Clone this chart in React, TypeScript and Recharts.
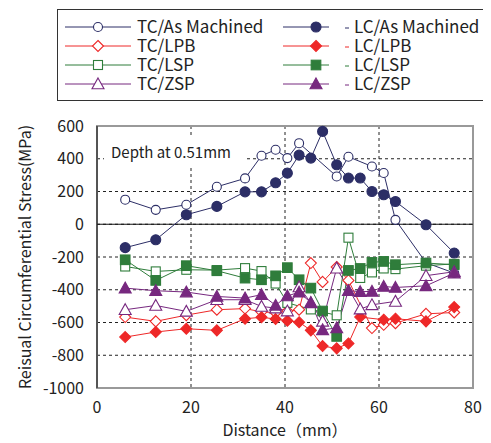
import React from "react";
import {
  LineChart,
  Line,
  XAxis,
  YAxis,
  CartesianGrid,
  ReferenceLine,
  ReferenceArea,
  Label,
} from "recharts";

const FONT = '"Noto Sans CJK JP", "Noto Sans", sans-serif';

// [distance mm, stress MPa]
const tcAsMachined = [
  [6, 150], [12.5, 88], [19, 119], [25.5, 229], [31.5, 280], [35, 418], [38, 455],
  [40.5, 404], [43, 495], [51, 292], [53.5, 412], [58.5, 353], [61, 313], [63.5, 27],
  [70, -235], [76, -298],
];
const lcAsMachined = [
  [6, -143], [12.5, -95], [19, 58], [25.5, 109], [31.5, 198], [35, 198], [38, 253],
  [40.5, 312], [43, 422], [45.5, 404], [48, 567], [51, 363], [53.5, 282], [56, 282],
  [58.5, 200], [61, 180], [63.5, 139], [70, -3], [76, -176],
];
const tcLPB = [
  [6, -567], [12.5, -593], [19, -555], [25.5, -522], [31.5, -515], [35, -535], [38, -540],
  [40.5, -530], [43, -522], [45.5, -237], [48, -352], [51, -261], [53.5, -343],
  [58.5, -634], [61, -614], [63.5, -604], [70, -547], [76, -539],
];
const lcLPB = [
  [6, -689], [12.5, -658], [19, -638], [25.5, -648], [31.5, -577], [35, -568], [38, -579],
  [40.5, -589], [43, -598], [45.5, -648], [48, -744], [51, -758], [53.5, -728], [56, -567],
  [61, -583], [63.5, -577], [70, -593], [76, -506],
];
const tcLSP = [
  [6, -258], [12.5, -288], [19, -278], [25.5, -280], [31.5, -268], [35, -286], [38, -362],
  [40.5, -480], [45.5, -520], [51, -556], [53.5, -82], [56, -328], [58.5, -294], [61, -270],
  [63.5, -274], [70, -253], [76, -242],
];
const lcLSP = [
  [6, -217], [12.5, -343], [19, -253], [25.5, -284], [31.5, -329], [35, -339], [38, -315],
  [40.5, -265], [43, -339], [45.5, -390], [48, -530], [51, -685], [53.5, -282], [56, -270],
  [58.5, -233], [61, -227], [63.5, -247], [70, -237], [76, -247],
];
const tcZSP = [
  [6, -522], [12.5, -496], [19, -532], [25.5, -461], [31.5, -461], [35, -502], [38, -512],
  [40.5, -530], [43, -383], [45.5, -480], [48, -593], [51, -268], [56, -518], [58.5, -492],
  [63.5, -471], [70, -314], [76, -290],
];
const lcZSP = [
  [6, -390], [12.5, -406], [19, -414], [25.5, -441], [31.5, -451], [35, -430], [38, -495],
  [40.5, -438], [43, -415], [45.5, -479], [48, -645], [51, -633], [53.5, -405], [56, -412],
  [58.5, -410], [61, -380], [63.5, -386], [70, -376], [76, -298],
];

const xTicks = [0, 20, 40, 60, 80];
const yTicks = [-1000, -800, -600, -400, -200, 0, 200, 400, 600];

const NAVY = "#2c2e66";
const RED = "#ee2828";
const GREEN = "#2f7d3b";
const PURPLE = "#77287f";

type Shape = "circle" | "diamond" | "square" | "triangle";

const series = [
  { name: "TC/As Machined", data: tcAsMachined, color: NAVY, shape: "circle", filled: false },
  { name: "LC/As Machined", data: lcAsMachined, color: NAVY, shape: "circle", filled: true },
  { name: "TC/LPB", data: tcLPB, color: RED, shape: "diamond", filled: false },
  { name: "LC/LPB", data: lcLPB, color: RED, shape: "diamond", filled: true },
  { name: "TC/LSP", data: tcLSP, color: GREEN, shape: "square", filled: false },
  { name: "LC/LSP", data: lcLSP, color: GREEN, shape: "square", filled: true },
  { name: "TC/ZSP", data: tcZSP, color: PURPLE, shape: "triangle", filled: false },
  { name: "LC/ZSP", data: lcZSP, color: PURPLE, shape: "triangle", filled: true },
] as { name: string; data: number[][]; color: string; shape: Shape; filled: boolean }[];

function marker(shape: Shape, color: string, filled: boolean, cx: number, cy: number, key?: string) {
  const fill = filled ? color : "#fff";
  const common = { key, fill, stroke: color, strokeWidth: 1.1 };
  if (shape === "circle") return <circle {...common} cx={cx} cy={cy} r={filled ? 5 : 4.5} />;
  if (shape === "diamond") {
    const s = 5.5;
    return <polygon {...common} points={`${cx},${cy - s} ${cx + s},${cy} ${cx},${cy + s} ${cx - s},${cy}`} />;
  }
  if (shape === "square") {
    const s = filled ? 4.8 : 4.5;
    return <rect {...common} x={cx - s} y={cy - s} width={2 * s} height={2 * s} />;
  }
  const s = 6;
  return (
    <polygon {...common} points={`${cx},${cy - s} ${cx + s},${cy + s * 0.8} ${cx - s},${cy + s * 0.8}`} />
  );
}

function Legend() {
  const rows = [0, 1, 2, 3];
  return (
    <div
      style={{
        position: "absolute",
        left: 49,
        top: 1,
        width: 440,
        height: 90,
        border: "1px solid #333",
        background: "#fff",
      }}
    >
      <svg width={440} height={90} style={{ display: "block" }}>
        {rows.map((r) => {
          const y = 17 + r * 19;
          const tc = series[r * 2];
          const lc = series[r * 2 + 1];
          return (
            <g key={r}>
              <line x1={7} x2={73} y1={y} y2={y} stroke={tc.color} strokeWidth={1} />
              {marker(tc.shape, tc.color, tc.filled, 40, y)}
              <text x={79} y={y + 6} fontSize={17} fontFamily={FONT} fill="#222">
                {tc.name}
              </text>
              <line x1={225} x2={271} y1={y} y2={y} stroke={lc.color} strokeWidth={1} />
              {marker(lc.shape, lc.color, lc.filled, 258, y)}
              <line x1={287} x2={291} y1={y + 1} y2={y + 1} stroke={lc.color} strokeWidth={1} />
              <text x={296} y={y + 6} fontSize={17} fontFamily={FONT} fill="#222">
                {lc.name}
              </text>
            </g>
          );
        })}
      </svg>
    </div>
  );
}

export default function App() {
  return (
    <div style={{ position: "relative", width: 483, height: 435, fontFamily: FONT }}>
      <LineChart
        width={483}
        height={435}
        margin={{ top: 118, right: 18, bottom: 5, left: 29 }}
      >
        <CartesianGrid stroke="#222" strokeDasharray="3 3" />
        <ReferenceArea
          x1={0}
          x2={80}
          y1={-1000}
          y2={600}
          fill="none"
          stroke="#999"
          strokeWidth={2}
          ifOverflow="visible"
        />
        <ReferenceLine y={0} stroke="#111" strokeWidth={1.2} />
        <XAxis
          type="number"
          dataKey="x"
          domain={[0, 80]}
          ticks={xTicks}
          height={50}
          tickSize={0}
          tickMargin={14}
          axisLine={false}
          tick={{ fontSize: 16, fill: "#222", fontFamily: FONT }}
        >
          <Label
            value="Distance（mm）"
            position="insideBottom"
            offset={2}
            style={{ fontSize: 16, fill: "#222", fontFamily: FONT }}
          />
        </XAxis>
        <YAxis
          type="number"
          domain={[-1000, 600]}
          ticks={yTicks}
          width={60}
          tickSize={0}
          tickMargin={13}
          axisLine={{ stroke: "#111" }}
          tick={{ fontSize: 16, fill: "#222", fontFamily: FONT }}
        >
          <Label
            value="Reisual Circumferential Stress(MPa)"
            angle={-90}
            position="insideLeft"
            offset={-12}
            style={{ fontSize: 16, fill: "#222", fontFamily: FONT, textAnchor: "middle" }}
          />
        </YAxis>
        {series.map((s) => (
          <Line
            key={s.name}
            name={s.name}
            data={s.data.map(([x, y]) => ({ x, y }))}
            dataKey="y"
            type="linear"
            stroke={s.color}
            strokeWidth={1}
            isAnimationActive={false}
            dot={(p: any) => marker(s.shape, s.color, s.filled, p.cx, p.cy, `${s.name}-${p.index}`)}
            activeDot={false}
          />
        ))}
      </LineChart>
      <div
        style={{
          position: "absolute",
          left: 96,
          top: 129,
          width: 142,
          height: 30,
          background: "#fff",
          fontSize: 15,
          lineHeight: "30px",
          paddingLeft: 7,
          boxSizing: "border-box",
          color: "#222",
        }}
      >
        Depth at 0.51mm
      </div>
      <Legend />
    </div>
  );
}
